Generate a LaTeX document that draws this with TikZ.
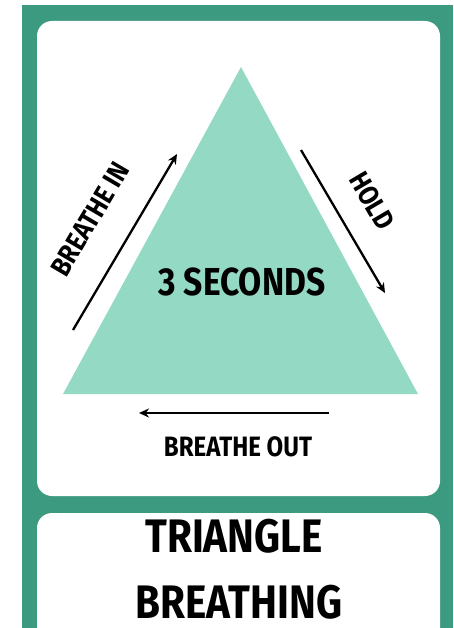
\documentclass[tikz,border=0pt]{standalone}
\usepackage{fontspec}
\newfontfamily\cardfont{Fira Sans}[FakeStretch=0.86]
\usetikzlibrary{arrows.meta}
\definecolor{cardgreen}{RGB}{60,154,129}
\definecolor{mint}{RGB}{148,217,196}
\tikzset{
	panel/.style={fill=white, rounded corners=15pt},
	word/.style={font=\cardfont\bfseries, text=black, inner sep=0pt},
	breath/.style={line width=2.3pt, -{Stealth[length=10pt, width=9pt]}}
}
\begin{document}
\begin{tikzpicture}[x=1pt, y=-1pt]
	\useasboundingbox (0, 0) rectangle (453, 628);
	% Card and panels:
	\fill[cardgreen] (22, 5) rectangle (453, 628);
	\fill[panel] (37, 21) rectangle (440, 496);
	\fill[panel] (37, 513) rectangle (440, 660);
	\fill[cardgreen] (0, 628) rectangle (453, 640);
	% Triangle:
	\coordinate (top) at (241, 67);
	\coordinate (left) at (63, 394);
	\coordinate (right) at (418, 394);
	\fill[mint] (top) -- (right) -- (left) -- cycle;
	\node[word, font=\cardfont\bfseries\fontsize{39}{39}\selectfont] (seconds) at (242, 282) {3 SECONDS};
	% Arrows and labels:
	\coordinate (in1) at (73, 330);
	\coordinate (in2) at (177, 154);
	\coordinate (hold1) at (301, 150);
	\coordinate (hold2) at (385, 293);
	\coordinate (out1) at (329, 413);
	\coordinate (out2) at (139, 413);
	\draw[breath] (in1) -- (in2);
	\draw[breath] (hold1) -- (hold2);
	\draw[breath] (out1) -- (out2);
	\node[word, rotate=59.5, font=\cardfont\bfseries\fontsize{28}{28}\selectfont] (inlabel) at (90, 219) {BREATHE IN};
	\node[word, rotate=-59.5, font=\cardfont\bfseries\fontsize{28}{28}\selectfont] (holdlabel) at (372, 201) {HOLD};
	\node[word, font=\cardfont\bfseries\fontsize{28}{28}\selectfont] (outlabel) at (238, 447) {BREATHE OUT};
	% Title:
	\node[word, font=\cardfont\bfseries\fontsize{47}{47}\selectfont] (title1) at (234, 536) {TRIANGLE};
	\node[word, font=\cardfont\bfseries\fontsize{47}{47}\selectfont] (title2) at (239, 602) {BREATHING};
\end{tikzpicture}
\end{document}
